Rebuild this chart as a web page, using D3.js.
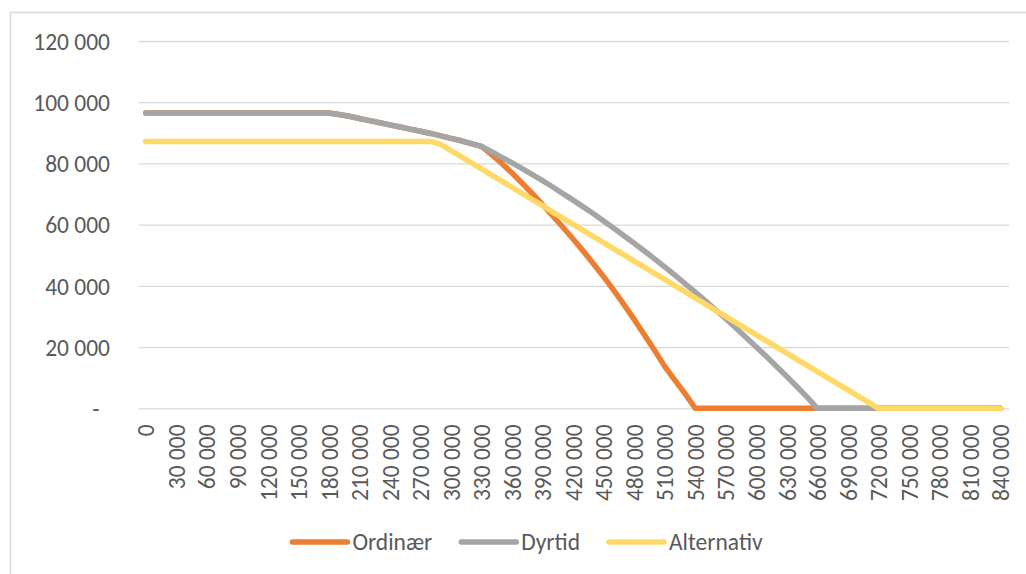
<!DOCTYPE html>
<html>
<head>
<meta charset="utf-8">
<script src="https://cdn.jsdelivr.net/npm/d3@7"></script>
<style>
  body { margin: 0; background: #fff; }
  svg { display: block; }
  text { font-family: Carlito, Calibri, Lato, "Open Sans", sans-serif; fill: #595959; }
</style>
</head>
<body>
<svg id="chart" width="1026" height="574"></svg>
<script>
// Income steps (kr), one category every 10 000
const categories = d3.range(0, 850000, 10000);

const yTicks = [0, 20000, 40000, 60000, 80000, 100000, 120000];

const seriesNames = ["Ordinær", "Dyrtid", "Alternativ"];
const seriesColors = ["#ED7D31", "#A5A5A5", "#FFD966"];

const ordinaer = [
  96500, 96500, 96500, 96500, 96500, 96500, 96500, 96500, 96500, 96500,
  96500, 96500, 96500, 96500, 96500, 96500, 96500, 96500, 96500, 96000,
  95400, 94700, 94000, 93300, 92600, 91900, 91200, 90500, 89800, 89000,
  88200, 87400, 86500, 85550, 82900, 80000, 76850, 73550, 70100, 66550,
  62900, 59150, 55300, 51350, 47250, 43000, 38550, 33900, 29050, 24050,
  18950, 13700, 9200, 4800, 0, 0, 0, 0, 0, 0,
  0, 0, 0, 0, 0, 0, 0, 0, 0, 0,
  0, 0, 0, 0, 0, 0, 0, 0, 0, 0,
  0, 0, 0, 0, 0
];

const dyrtid = [
  96500, 96500, 96500, 96500, 96500, 96500, 96500, 96500, 96500, 96500,
  96500, 96500, 96500, 96500, 96500, 96500, 96500, 96500, 96500, 96000,
  95400, 94700, 94000, 93300, 92600, 91900, 91200, 90500, 89800, 89000,
  88200, 87400, 86500, 85550, 83800, 82000, 80200, 78300, 76350, 74350,
  72300, 70150, 68000, 65800, 63550, 61200, 58850, 56400, 53950, 51400,
  48800, 46200, 43500, 40750, 37950, 35100, 32200, 29250, 26250, 23150,
  20050, 16900, 13650, 10400, 7050, 3650, 0, 0, 0, 0,
  0, 0, 0, 0, 0, 0, 0, 0, 0, 0,
  0, 0, 0, 0, 0
];

const alternativ = [
  87200, 87200, 87200, 87200, 87200, 87200, 87200, 87200, 87200, 87200,
  87200, 87200, 87200, 87200, 87200, 87200, 87200, 87200, 87200, 87200,
  87200, 87200, 87200, 87200, 87200, 87200, 87200, 87200, 87200, 86200,
  84200, 82200, 80200, 78200, 76200, 74200, 72200, 70200, 68200, 66200,
  64100, 62100, 60100, 58100, 56100, 54100, 52100, 50100, 48100, 46100,
  44100, 42100, 40100, 38100, 36100, 34000, 32000, 30000, 28000, 26000,
  24000, 22000, 20000, 18000, 16000, 14000, 12000, 10000, 8000, 6000,
  4000, 2000, 0, 0, 0, 0, 0, 0, 0, 0,
  0, 0, 0, 0, 0
];

const seriesValues = [ordinaer, dyrtid, alternativ];

const svg = d3.select("#chart");
const fontSize = 23.5;

// chart frame
svg.append("rect")
  .attr("x", 10.5).attr("y", 12.5)
  .attr("width", 1030).attr("height", 580)
  .attr("fill", "none").attr("stroke", "#D9D9D9").attr("stroke-width", 1.5);

const plotLeft = 139, plotRight = 1009;
const x = d3.scalePoint().domain(categories).range([145.7, 1000.5]);
const y = d3.scaleLinear().domain([0, 120000]).range([408.3, 41]);

const locale = d3.formatLocale({ decimal: ",", thousands: " ", grouping: [3], currency: ["", ""] });
const fmt = locale.format(",d");

// value axis with horizontal gridlines
const yAxis = svg.append("g")
  .attr("transform", `translate(${plotLeft},0)`)
  .call(d3.axisLeft(y)
    .tickValues(yTicks)
    .tickSize(-(plotRight - plotLeft))
    .tickPadding(29)
    .tickFormat(d => d === 0 ? "-" : fmt(d)));
yAxis.select(".domain").remove();
yAxis.selectAll(".tick line").attr("stroke", "#D9D9D9").attr("stroke-width", 1.3);
yAxis.selectAll(".tick text")
  .attr("fill", "#595959")
  .style("font-size", fontSize + "px")
  .attr("dy", "0.35em")
  .attr("x", d => d === 0 ? -39.5 : -29);

// category axis, every third category labelled, rotated
const xAxis = svg.append("g")
  .attr("transform", `translate(0,${y(0)})`)
  .call(d3.axisBottom(x)
    .tickValues(categories.filter((d, i) => i % 3 === 0))
    .tickSize(0)
    .tickFormat(d => fmt(d)));
xAxis.select(".domain").remove();
xAxis.selectAll(".tick text")
  .attr("fill", "#595959")
  .style("font-size", fontSize + "px")
  .attr("y", 0)
  .attr("x", -16)
  .attr("dy", "0.35em")
  .attr("transform", "rotate(-90)")
  .style("text-anchor", "end");

// series lines
const line = d3.line()
  .x((d, i) => x(categories[i]))
  .y(d => y(d));

svg.append("g").selectAll("path")
  .data(seriesValues)
  .join("path")
  .attr("d", line)
  .attr("fill", "none")
  .attr("stroke", (d, i) => seriesColors[i])
  .attr("stroke-width", 5.5)
  .attr("stroke-linecap", "round")
  .attr("stroke-linejoin", "round");

// legend
const legendY = 542, swatch = 55, swatchGap = 5, itemGap = 29, legendCenter = 527.5;
const legend = svg.append("g");
const items = legend.selectAll("g").data(seriesNames).join("g");
items.append("line")
  .attr("x1", 0).attr("x2", swatch)
  .attr("y1", legendY).attr("y2", legendY)
  .attr("stroke", (d, i) => seriesColors[i])
  .attr("stroke-width", 5.5)
  .attr("stroke-linecap", "round");
items.append("text")
  .attr("x", swatch + swatchGap)
  .attr("y", legendY)
  .attr("dy", "0.35em")
  .style("font-size", fontSize + "px")
  .text(d => d);

let offset = 0;
const widths = [];
items.each(function () {
  const w = swatch + swatchGap + d3.select(this).select("text").node().getComputedTextLength();
  widths.push(w);
});
const total = d3.sum(widths) + itemGap * (widths.length - 1);
offset = legendCenter - total / 2;
items.attr("transform", (d, i) => {
  const t = `translate(${offset},0)`;
  offset += widths[i] + itemGap;
  return t;
});
</script>
</body>
</html>
